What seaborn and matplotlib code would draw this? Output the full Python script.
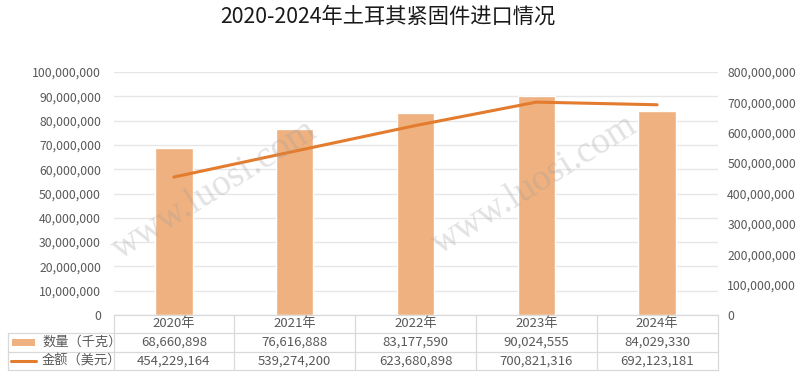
import numpy as np
import pandas as pd
import matplotlib
matplotlib.use("Agg")
import matplotlib.pyplot as plt
import matplotlib.transforms as mtransforms
from matplotlib.patches import Rectangle
from matplotlib.lines import Line2D
import seaborn as sns

years = ["2020年", "2021年", "2022年", "2023年", "2024年"]
quantity = [68660898, 76616888, 83177590, 90024555, 84029330]
amount = [454229164, 539274200, 623680898, 700821316, 692123181]
row_labels = ["数量（千克）", "金额（美元）"]
title = "2020-2024年土耳其紧固件进口情况"

sns.set_theme(style="white")
plt.rcParams["font.family"] = ["Noto Sans CJK SC", "DejaVu Sans"]

BAR_C = "#EFB17F"
LINE_C = "#E37C2E"
TXT_C = "#595959"
GRID_C = "#E6E6E6"

df = pd.DataFrame({"year": years, "qty": quantity, "amt": amount, "pos": np.arange(len(years))})

fig = plt.figure(figsize=(8, 3.8), dpi=100)
ax = fig.add_axes([113.5 / 800, 1 - 315 / 380, (717.5 - 113.5) / 800, (315 - 72) / 380])

sns.barplot(data=df, x="pos", y="qty", color=BAR_C, width=0.31, ax=ax, saturation=1, native_scale=True)
ax.set_xlim(-0.5, len(years) - 0.5)
ax.set_ylim(0, 100_000_000)
ax.set_yticks(np.arange(0, 100_000_001, 10_000_000))
ax.set_yticklabels([f"{v:,}" for v in np.arange(0, 100_000_001, 10_000_000)])
ax.yaxis.grid(True, color=GRID_C, lw=1)
ax.set_axisbelow(True)
ax.set_xticks([])
ax.set_xlabel("")
ax.set_ylabel("")
for s in ax.spines.values():
    s.set_visible(False)
ax.tick_params(axis="y", colors=TXT_C, labelsize=8.8, length=0, pad=9)

ax2 = ax.twinx()
sns.lineplot(data=df, x="pos", y="amt", color=LINE_C, lw=2.2, ax=ax2)
ax2.set_ylim(0, 800_000_000)
ax2.set_yticks(np.arange(0, 800_000_001, 100_000_000))
ax2.set_yticklabels([f"{v:,}" for v in np.arange(0, 800_000_001, 100_000_000)])
ax2.set_xlim(-0.5, len(years) - 0.5)
ax2.set_ylabel("")
ax2.set_xlabel("")
for s in ax2.spines.values():
    s.set_visible(False)
ax2.tick_params(axis="y", colors=TXT_C, labelsize=8.8, length=0, pad=7)
ax2.grid(False)

# data table under the plot
tr = mtransforms.blended_transform_factory(ax.transData, ax.transAxes)
h = 243.0
y0 = 0.0
y1 = -18 / h
y2 = -37 / h
y3 = -55 / h
left_fig = (8 - 113.5) / 604.0
lc = "#D9D9D9"
kw = dict(color=lc, lw=0.9, clip_on=False)
ax.plot([-0.5, 4.5], [y0, y0], transform=tr, **kw)
for yy in (y1, y2, y3):
    ax.plot([left_fig, 1], [yy, yy], transform=ax.transAxes, **kw)
for xv in np.arange(-0.5, len(years), 1.0):
    ax.plot([xv, xv], [y0, y3], transform=tr, **kw)
ax.plot([left_fig, left_fig], [y1, y3], transform=ax.transAxes, **kw)

fs = 9.5
for i, yr in enumerate(years):
    ax.text(i, (y0 + y1) / 2, yr, transform=tr, ha="center", va="center", fontsize=fs, color=TXT_C)
    ax.text(i, (y1 + y2) / 2, f"{quantity[i]:,}", transform=tr, ha="center", va="center", fontsize=fs, color=TXT_C)
    ax.text(i, (y2 + y3) / 2, f"{amount[i]:,}", transform=tr, ha="center", va="center", fontsize=fs, color=TXT_C)

def fx(px):
    return px / 800
def fy(py):
    return 1 - py / 380

fig.patches.append(Rectangle((fx(12), fy(346)), fx(23), 7 / 380, transform=fig.transFigure,
                             facecolor=BAR_C, edgecolor="none"))
fig.lines.append(Line2D([fx(11), fx(36)], [fy(361), fy(361)], transform=fig.transFigure,
                        color=LINE_C, lw=2.2))
fig.text(fx(42), fy(342.5), row_labels[0], ha="left", va="center", fontsize=fs, color=TXT_C)
fig.text(fx(42), fy(361), row_labels[1], ha="left", va="center", fontsize=fs, color=TXT_C)

# title
fig.text(fx(388), fy(17), title, ha="center", va="center", fontsize=15.3, color="#1a1a1a")

# watermark
for (px, py) in [(215, 190), (535, 185)]:
    fig.text(fx(px), fy(py), "www.luosi.com", ha="center", va="center", fontsize=27,
             family="Liberation Serif", color="#a0a0a0", alpha=0.3, rotation=32)

fig.savefig("out.png", dpi=100)
